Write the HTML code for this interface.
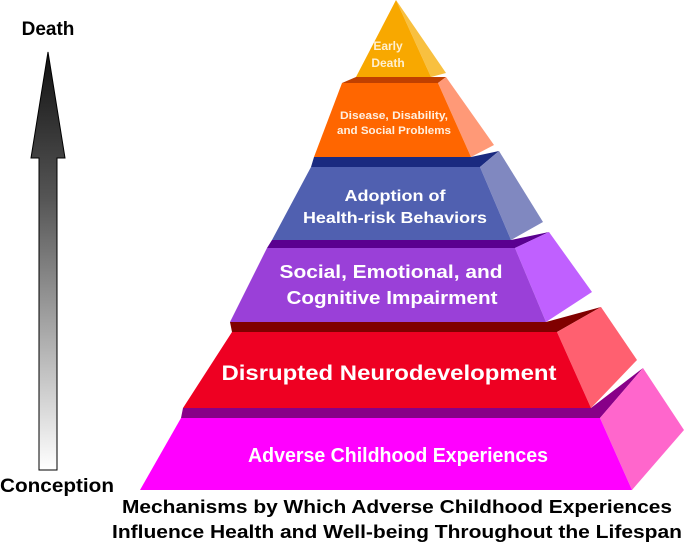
<!DOCTYPE html>
<html><head><meta charset="utf-8"><style>
html,body{margin:0;padding:0;background:#fff;width:696px;height:544px;overflow:hidden}
text{font-family:"Liberation Sans",sans-serif;font-weight:bold}
</style></head><body>
<svg width="696" height="544" viewBox="0 0 696 544" xmlns="http://www.w3.org/2000/svg">
<defs>
<linearGradient id="ag" x1="0" y1="0" x2="0" y2="1">
<stop offset="0" stop-color="#111"/><stop offset="0.35" stop-color="#555"/><stop offset="1" stop-color="#fff"/>
</linearGradient>
</defs>
<!-- arrow -->
<polygon points="48,52 65,158 57,158 57,470 39,470 39,158 31,158" fill="url(#ag)" stroke="#000" stroke-width="1"/>
<text x="48" y="35" font-size="19" text-anchor="middle" fill="#000">Death</text>
<text x="57" y="492" font-size="19" text-anchor="middle" fill="#000" textLength="114" lengthAdjust="spacingAndGlyphs">Conception</text>

<!-- magenta -->
<polygon points="181,418 600,418 643,368 591,408 183,408" fill="#880088"/>
<polygon points="600,418 643,368 684,430 632,490" fill="#ff66cc"/>
<polygon points="181,418 600,418 632,490 140,490" fill="#ff00ff"/>
<!-- red -->
<polygon points="232,332 557,332 601,307 546,322 230,322" fill="#800000"/>
<polygon points="557,332 601,307 637,360 591,408" fill="#ff6070"/>
<polygon points="232,332 557,332 591,408 183,408" fill="#ee0022"/>
<!-- purple -->
<polygon points="267,248 515,248 549,232 511,240 272,240" fill="#5a0090"/>
<polygon points="515,248 549,232 592,292 546,322" fill="#c060ff"/>
<polygon points="267,248 515,248 546,322 230,322" fill="#9a40d8"/>
<!-- blue -->
<polygon points="311,167 480,167 499,151 471,157 314,157" fill="#1a2a80"/>
<polygon points="480,167 499,151 543,222 511,240" fill="#8088c0"/>
<polygon points="311,167 480,167 511,240 272,240" fill="#5060b0"/>
<!-- orange -->
<polygon points="342,83 438,83 446,77 431,77 356,77" fill="#c04000"/>
<polygon points="438,83 446,77 494,145 471,157" fill="#ff9977"/>
<polygon points="342,83 438,83 471,157 314,157" fill="#ff6600"/>
<!-- yellow -->
<polygon points="396,0 446,73 431,77" fill="#f8c040"/>
<polygon points="396,0 431,77 356,77" fill="#f8a800"/>

<text x="388" y="50" font-size="12" text-anchor="middle" fill="#fff0d0">Early</text>
<text x="388" y="67" font-size="12" text-anchor="middle" fill="#fff0d0">Death</text>
<text x="394" y="119" font-size="11" text-anchor="middle" fill="#fff0e0" textLength="108" lengthAdjust="spacingAndGlyphs">Disease, Disability,</text>
<text x="394" y="134" font-size="11" text-anchor="middle" fill="#fff0e0" textLength="114" lengthAdjust="spacingAndGlyphs">and Social Problems</text>
<text x="395" y="201" font-size="16" text-anchor="middle" fill="#fff" textLength="101" lengthAdjust="spacingAndGlyphs">Adoption of</text>
<text x="395" y="223" font-size="16" text-anchor="middle" fill="#fff" textLength="184" lengthAdjust="spacingAndGlyphs">Health-risk Behaviors</text>
<text x="391" y="278" font-size="18" text-anchor="middle" fill="#fff" textLength="223" lengthAdjust="spacingAndGlyphs">Social, Emotional, and</text>
<text x="392" y="304" font-size="18" text-anchor="middle" fill="#fff" textLength="211" lengthAdjust="spacingAndGlyphs">Cognitive Impairment</text>
<text x="389" y="380" font-size="21" text-anchor="middle" fill="#fff" textLength="335" lengthAdjust="spacingAndGlyphs">Disrupted Neurodevelopment</text>
<text x="398" y="462" font-size="20" text-anchor="middle" fill="#fff" textLength="300" lengthAdjust="spacingAndGlyphs">Adverse Childhood Experiences</text>

<text x="397" y="513" font-size="18" text-anchor="middle" fill="#000" textLength="550" lengthAdjust="spacingAndGlyphs">Mechanisms by Which Adverse Childhood Experiences</text>
<text x="397" y="538" font-size="18" text-anchor="middle" fill="#000" textLength="570" lengthAdjust="spacingAndGlyphs">Influence Health and Well-being Throughout the Lifespan</text>
</svg>
</body></html>
